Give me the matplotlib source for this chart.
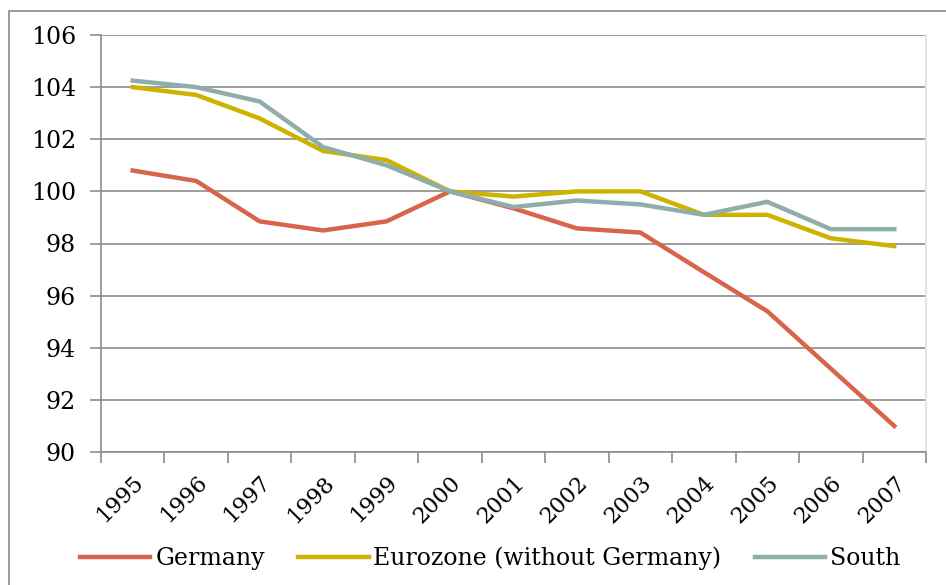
import matplotlib.pyplot as plt
import numpy as np
from matplotlib.patches import Rectangle

years = ['1995', '1996', '1997', '1998', '1999', '2000', '2001',
         '2002', '2003', '2004', '2005', '2006', '2007']
germany = [100.8, 100.4, 98.85, 98.5, 98.85, 100.0, 99.35,
           98.58, 98.42, 96.9, 95.4, 93.2, 91.0]
eurozone = [104.0, 103.7, 102.8, 101.55, 101.2, 100.0, 99.8,
            100.0, 100.0, 99.1, 99.1, 98.2, 97.9]
south = [104.25, 104.0, 103.45, 101.7, 101.0, 100.0, 99.4,
         99.65, 99.5, 99.1, 99.6, 98.55, 98.55]

plt.rcParams['font.family'] = ['DejaVu Serif']

fig = plt.figure(figsize=(9.46, 5.85), dpi=100)
# outer chart border
fig.patches.append(Rectangle((9 / 946, -0.05), 1.0, 1 - 11 / 585 + 0.05,
                             transform=fig.transFigure, fill=False,
                             edgecolor='#8c8c8c', linewidth=1.2))

ax = fig.add_axes([101 / 946, 133 / 585, 825 / 946, 417 / 585])
x = np.arange(len(years))
ax.plot(x, germany, color='#D8654B', linewidth=3.2, label='Germany')
ax.plot(x, eurozone, color='#CDB300', linewidth=3.2, label='Eurozone (without Germany)')
ax.plot(x, south, color='#8FADAB', linewidth=3.2, label='South')

ax.set_xlim(-0.5, len(years) - 0.5)
ax.set_ylim(90, 106)
ax.set_yticks(range(90, 107, 2))
ax.set_yticklabels([str(v) for v in range(90, 107, 2)], fontsize=17)
ax.grid(True, axis='y', color='#8c8c8c', linewidth=1.2)
ax.set_axisbelow(True)

ax.set_xticks(x)
ax.set_xticklabels(years, rotation=45, ha='right', rotation_mode='anchor', fontsize=16)
ax.set_xticks(np.arange(-0.5, len(years)), minor=True)
ax.tick_params(axis='x', which='major', length=0, pad=14)
ax.tick_params(axis='x', which='minor', length=8, color='#8c8c8c', width=1.2)
ax.tick_params(axis='y', length=8, color='#8c8c8c', width=1.2, pad=10)

ax.spines['top'].set_visible(False)
ax.spines['right'].set_color('#dce6f2')
ax.spines['right'].set_linewidth(1.5)
for s in ['left', 'bottom']:
    ax.spines[s].set_color('#8c8c8c')
    ax.spines[s].set_linewidth(1.2)

fig.legend(loc='center', bbox_to_anchor=(490 / 946, 1 - 558 / 585), ncol=3,
           frameon=False, fontsize=17, handlelength=3.0, columnspacing=1.4,
           handletextpad=0.2)

fig.savefig('out.png', dpi=100)
